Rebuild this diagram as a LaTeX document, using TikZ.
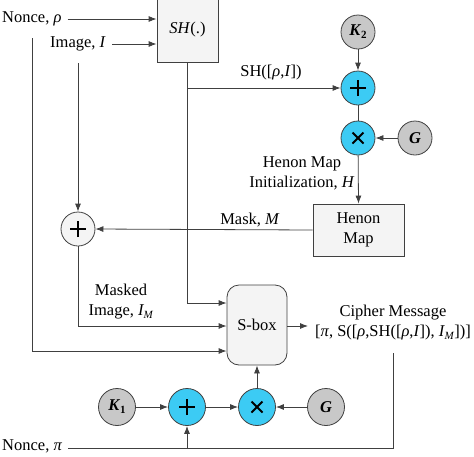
\documentclass[tikz,border=0pt]{standalone}
\usepackage{fontspec}
\setmainfont{Liberation Serif}
\usetikzlibrary{arrows.meta}
\definecolor{cyanc}{HTML}{3CCBF4}
\definecolor{grayc}{HTML}{C8C8C8}
\definecolor{lightc}{HTML}{F4F4F4}
\definecolor{linec}{HTML}{404040}
\tikzset{
  txt/.style={font=\fontsize{16.5}{20}\selectfont, inner sep=2pt, align=center},
  arr/.style={draw=linec, line width=0.8pt, -{Latex[length=8pt,width=6pt]}},
  ln/.style={draw=linec, line width=0.8pt},
  boxn/.style={draw=linec, line width=0.8pt, fill=lightc, txt, inner sep=0pt},
  circ/.style={circle, draw=linec, line width=0.8pt, minimum size=#1, inner sep=0pt, font=\fontsize{16.5}{20}\selectfont},
  pluss/.style={path picture={\draw[line width=1.8pt, black] ([xshift=-8pt]path picture bounding box.center) -- ([xshift=8pt]path picture bounding box.center) ([yshift=-8pt]path picture bounding box.center) -- ([yshift=8pt]path picture bounding box.center);}},
  timess/.style={path picture={\draw[line width=1.8pt, black] ([shift={(-5.5pt,-5.5pt)}]path picture bounding box.center) -- ([shift={(5.5pt,5.5pt)}]path picture bounding box.center) ([shift={(-5.5pt,5.5pt)}]path picture bounding box.center) -- ([shift={(5.5pt,-5.5pt)}]path picture bounding box.center);}},
}
\begin{document}
\begin{tikzpicture}[x=1pt,y=-1pt]
\useasboundingbox (0,0) rectangle (474,456);
% boxes
\node[boxn, minimum width=61pt, minimum height=64pt] (sh) at (187.5,30) {\textit{SH}(.)};
\node[boxn, minimum width=91pt, minimum height=52pt] (henon) at (358.5,230) {Henon\\Map};
\node[boxn, rounded corners=12pt, minimum width=60pt, minimum height=80pt] (sbox) at (257,325) {S-box};
% circles
\node[circ=34pt, fill=lightc, pluss] (plusL) at (78,229) {};
\node[circ=34pt, fill=grayc] (k2) at (358,32) {\textbf{\textit{K}}\raisebox{-3pt}{\fontsize{11}{11}\selectfont\textbf{2}}};
\node[circ=34pt, fill=cyanc, pluss] (plus2) at (358,88) {};
\node[circ=34pt, fill=cyanc, timess] (times2) at (358,138) {};
\node[circ=34pt, fill=grayc] (g2) at (415,138) {\textbf{\textit{G}}};
\node[circ=37pt, fill=grayc] (k1) at (117,407) {\textbf{\textit{K}}\raisebox{-3pt}{\fontsize{11}{11}\selectfont\textbf{1}}};
\node[circ=37pt, fill=cyanc, pluss] (plus1) at (187,407) {};
\node[circ=37pt, fill=cyanc, timess] (times1) at (257,407) {};
\node[circ=37pt, fill=grayc] (g1) at (326,407) {\textbf{\textit{G}}};
% texts
\node[txt, anchor=west] (nonceRho) at (0,19) {Nonce, \textit{ρ}};
\node[txt, anchor=west] (imageI) at (48,44) {Image, \textit{I}};
\node[txt, anchor=west] (noncePi) at (0,446) {Nonce, \textit{π}};
\node[txt] (shlab) at (271,73) {SH([\textit{ρ},\textit{I}])};
\node[txt, font=\fontsize{16.5}{20}\selectfont] (hlab) at (302,173) {Henon Map\\Initialization, \textit{H}};
\node[txt] (masklab) at (250,220) {Mask, \textit{M}};
\node[txt] (maskedlab) at (121,302) {Masked\\Image, \textit{I}\kern-0.5pt\raisebox{-3pt}{\fontsize{11}{11}\selectfont\textit{M}}};
\node[txt] (cipher) at (393,323) {Cipher Message\\{}[\textit{π}, S([\textit{ρ},SH([\textit{ρ},\textit{I}]), \textit{I}\kern-0.5pt\raisebox{-3pt}{\fontsize{11}{11}\selectfont\textit{M}}])]};
% coordinates
\coordinate (rhoDown) at (32,38);
\coordinate (imgDown) at (78,63);
\coordinate (cipherIn) at (308,326);
\coordinate (cipherDown) at (393,353);
\coordinate (cornerBR) at (393,448);
% connectors
\draw[arr] ([xshift=4pt]nonceRho.east) -- (nonceRho.east -| sh.west);
\draw[arr] ([xshift=4pt]imageI.east) -- (imageI.east -| sh.west);
\draw[arr] (rhoDown) |- (sbox.west |- 0,351);
\draw[arr] (imgDown) -- (plusL.north);
\draw[arr] (plusL.south) |- (sbox.west |- 0,326);
\draw[arr] (sh.south) |- (sbox.west |- 0,303);
\draw[arr] (sh.south |- 0,88) -- (plus2.west);
\draw[arr] (k2) -- (plus2);
\draw[ln] (plus2) -- (times2);
\draw[arr] (g2) -- (times2);
\draw[arr] (times2) -- (henon.north);
\draw[arr] (henon.west) -- (plusL.east);
\draw[arr] (sbox.east |- cipherIn) -- (cipherIn);
\draw[ln] ([xshift=4pt]noncePi.east |- cornerBR) -- (cornerBR) -- (cipherDown);
\draw[arr] (plus1.south |- cornerBR) -- (plus1.south);
\draw[arr] (k1) -- (plus1);
\draw[arr] (plus1) -- (times1);
\draw[arr] (g1) -- (times1);
\draw[arr] (times1) -- (sbox.south);
\end{tikzpicture}
\end{document}
